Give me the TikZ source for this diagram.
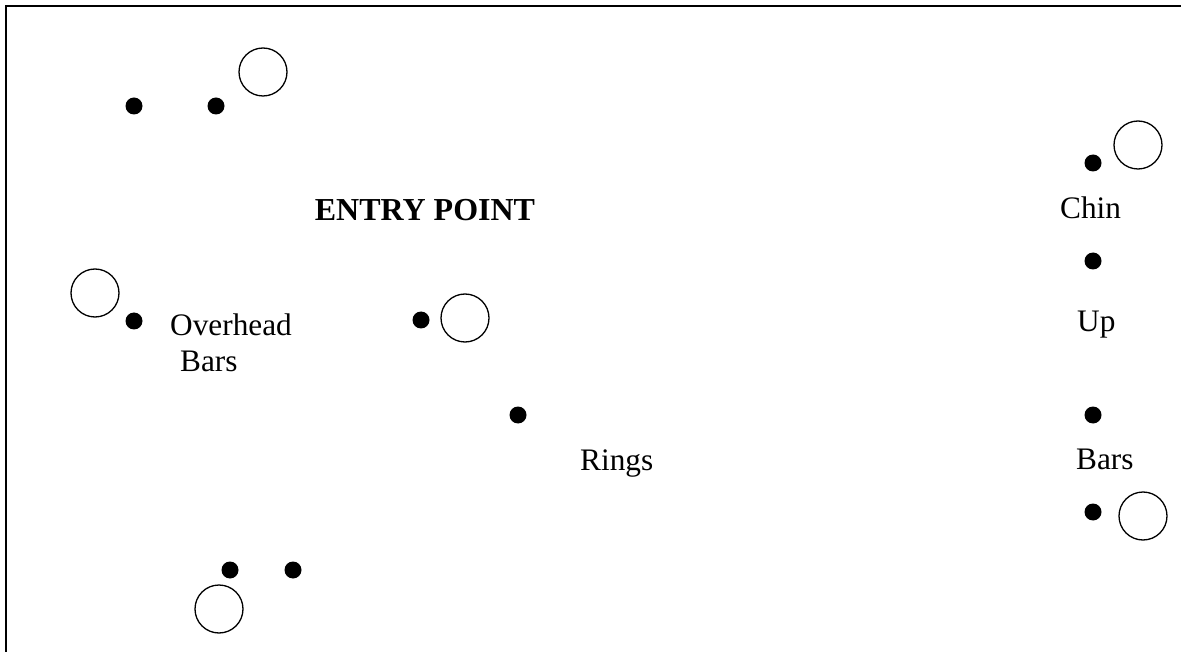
\documentclass[tikz,border=0pt]{standalone}
\usepackage{fontspec}
\setmainfont{Liberation Serif}
\usetikzlibrary{positioning}

\begin{document}
\begin{tikzpicture}[
    x=1pt, y=-1pt,
    spot/.style={circle, fill=black, inner sep=0pt, minimum size=17pt},
    hoop/.style={circle, draw=black, line width=1.3pt, inner sep=0pt, minimum size=48pt},
    tag/.style={anchor=base west, inner sep=0pt, font=\fontsize{31.3}{36}\selectfont},
]
\useasboundingbox (0,0) rectangle (1181,652);
% frame: only top and left edges show
\draw[line width=2pt] (6,652) -- (6,6) -- (1181,6);

% top left group
\node[spot] (tl1) at (134,106) {};
\node[spot] (tl2) at (216,106) {};
\node[hoop] (tlring) at (263,72) {};

\node[anchor=base, inner sep=0pt, font=\fontsize{32}{36}\selectfont\bfseries] (entry) at (425,221) {ENTRY POINT};

% overhead bars
\node[hoop] (ohring) at (95,293) {};
\node[spot] (oh1) at (134,321) {};
\node[tag] (ohtxt) at (170,336) {Overhead};
\node[tag] (ohtxt2) at (180,371) {Bars};

% rings
\node[spot] (rg1) at (421,320) {};
\node[hoop] (rgring) at (465,318) {};
\node[spot] (rg2) at (518,415) {};
\node[tag] (rgtxt) at (580,470) {Rings};

% chin up bars
\node[spot] (cb1) at (1093,163) {};
\node[hoop] (cbring) at (1138,145) {};
\node[tag] (cbtxt) at (1060,219) {Chin};
\node[spot] (cb2) at (1093,261) {};
\node[tag] (cbtxt2) at (1077,332) {Up};
\node[spot] (cb3) at (1093,415) {};
\node[tag] (cbtxt3) at (1076,469) {Bars};
\node[spot] (cb4) at (1093,512) {};
\node[hoop] (cbring2) at (1143,516) {};

% bottom group
\node[spot] (bt1) at (230,570) {};
\node[spot] (bt2) at (293,570) {};
\node[hoop] (btring) at (219,609) {};
\end{tikzpicture}
\end{document}
